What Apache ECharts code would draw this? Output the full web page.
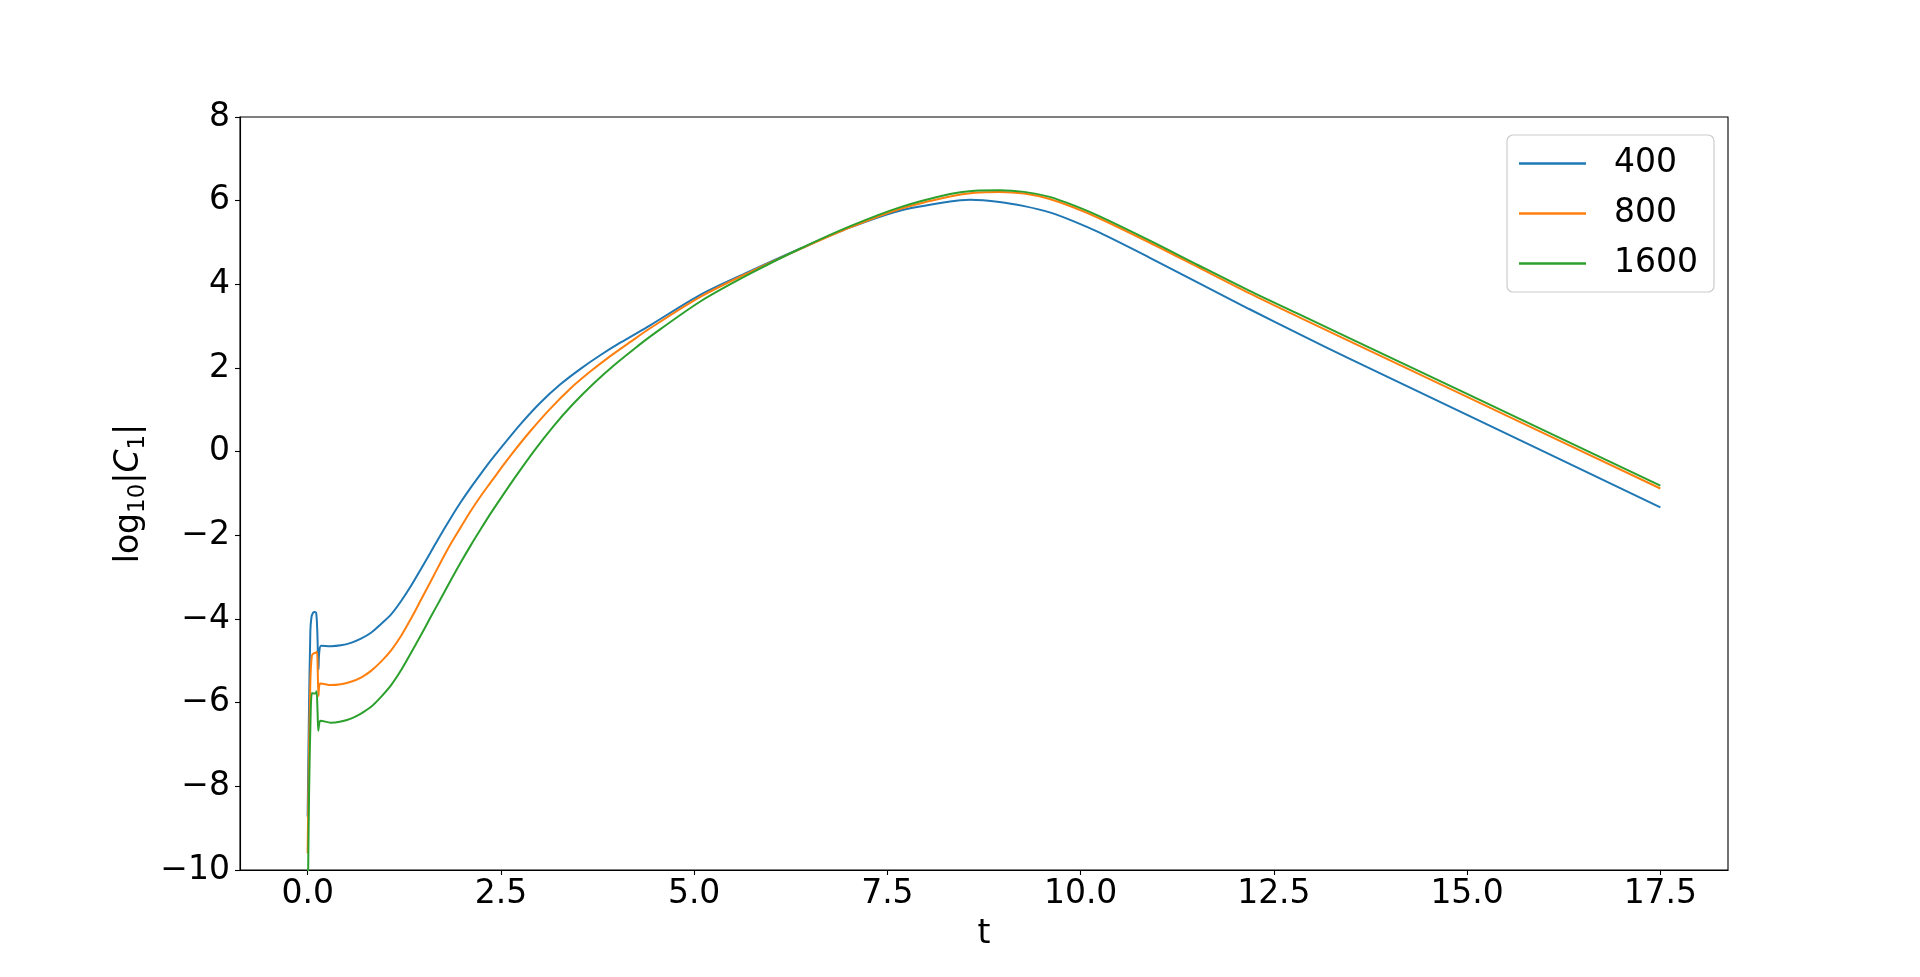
<!DOCTYPE html>
<html>
<head>
<meta charset="utf-8">
<script src="https://cdn.jsdelivr.net/npm/echarts@6/dist/echarts.min.js"></script>
<style>
html,body{margin:0;padding:0;background:#fff;}
#chart{width:1920px;height:977px;}
</style>
</head>
<body>
<div id="chart"></div>
<script>
// ---- data ----
const seriesNames = ['400', '800', '1600'];
const seriesColors = ['#1f77b4', '#ff7f0e', '#2ca02c'];

const t400 = [0, 0.015, 0.035, 0.05, 0.07, 0.088, 0.11, 0.125, 0.14, 0.15, 0.174, 0.30, 0.43, 0.56, 0.69, 0.82, 0.95, 1.08, 1.21, 1.34, 1.47, 1.59, 1.72, 1.85, 1.98, 2.11, 2.24, 2.37, 2.50, 2.76, 3.01, 3.27, 3.53, 3.79, 4.05, 4.43, 5.08, 5.73, 6.37, 7.02, 7.66, 8.31, 8.57, 8.95, 9.27, 9.60, 9.92, 10.24, 10.89, 11.53, 12.18, 12.83, 13.47, 15.0, 17.5];
const c400 = [-8.72, -6.5, -4.3, -3.95, -3.85, -3.83, -3.85, -4.3, -5.21, -4.8, -4.64, -4.65, -4.63, -4.57, -4.47, -4.33, -4.12, -3.89, -3.57, -3.20, -2.79, -2.41, -1.99, -1.59, -1.21, -0.86, -0.53, -0.21, 0.09, 0.67, 1.17, 1.61, 1.98, 2.31, 2.61, 3.02, 3.75, 4.32, 4.85, 5.36, 5.76, 5.98, 6.02, 5.97, 5.87, 5.72, 5.50, 5.24, 4.64, 4.03, 3.41, 2.81, 2.23, 0.88, -1.33];

const t800 = [0, 0.015, 0.035, 0.055, 0.08, 0.10, 0.12, 0.13, 0.14, 0.15, 0.166, 0.30, 0.43, 0.56, 0.69, 0.82, 0.95, 1.08, 1.21, 1.34, 1.47, 1.59, 1.72, 1.85, 1.98, 2.11, 2.24, 2.37, 2.50, 2.63, 2.885, 3.14, 3.40, 3.66, 3.92, 4.18, 4.43, 5.08, 5.73, 6.37, 7.02, 7.66, 8.31, 8.63, 8.95, 9.27, 9.60, 9.92, 10.24, 10.89, 11.53, 12.18, 12.83, 13.47, 15.0, 17.5];
const c800 = [-9.6, -7.5, -5.5, -4.87, -4.82, -4.81, -4.78, -5.2, -5.84, -5.6, -5.54, -5.58, -5.56, -5.50, -5.40, -5.24, -5.02, -4.75, -4.40, -3.98, -3.53, -3.11, -2.65, -2.21, -1.81, -1.42, -1.06, -0.73, -0.40, -0.08, 0.50, 1.03, 1.51, 1.92, 2.29, 2.63, 2.95, 3.70, 4.30, 4.84, 5.36, 5.80, 6.10, 6.19, 6.21, 6.17, 6.04, 5.83, 5.58, 5.00, 4.40, 3.79, 3.21, 2.65, 1.31, -0.88];

const t1600 = [0.005, 0.02, 0.04, 0.056, 0.08, 0.10, 0.115, 0.128, 0.138, 0.15, 0.166, 0.30, 0.43, 0.56, 0.69, 0.82, 0.95, 1.08, 1.21, 1.34, 1.47, 1.59, 1.72, 1.85, 1.98, 2.11, 2.24, 2.37, 2.50, 2.67, 2.93, 3.19, 3.44, 3.70, 3.96, 4.22, 4.43, 5.08, 5.73, 6.37, 7.02, 7.66, 8.31, 8.63, 8.95, 9.27, 9.60, 9.92, 10.24, 10.89, 11.53, 12.18, 12.83, 13.47, 15.0, 17.5];
const c1600 = [-10.3, -8.0, -6.2, -5.77, -5.78, -5.78, -5.73, -6.2, -6.67, -6.5, -6.43, -6.48, -6.45, -6.38, -6.26, -6.10, -5.86, -5.58, -5.22, -4.80, -4.37, -3.96, -3.52, -3.08, -2.65, -2.24, -1.85, -1.47, -1.11, -0.65, 0.02, 0.63, 1.15, 1.63, 2.06, 2.45, 2.75, 3.59, 4.26, 4.85, 5.39, 5.84, 6.16, 6.24, 6.25, 6.21, 6.09, 5.88, 5.63, 5.05, 4.45, 3.85, 3.28, 2.72, 1.38, -0.81];

const xTicks = [0, 2.5, 5, 7.5, 10, 12.5, 15, 17.5];
const yTicks = [-10, -8, -6, -4, -2, 0, 2, 4, 6, 8];

// ---- chart ----
const FONT = 'DejaVu Sans';
const tData = [t400, t800, t1600];
const cData = [c400, c800, c1600];

const chart = echarts.init(document.getElementById('chart'), null, {renderer: 'canvas'});
const minus = v => (v < 0 ? '\u2212' + String(Math.abs(v)) : String(v));

chart.setOption({
  animation: false,
  backgroundColor: '#ffffff',
  grid: {
    left: 240, right: 192, top: 117, bottom: 107,
    show: true, borderColor: '#000', borderWidth: 1.1, backgroundColor: 'transparent'
  },
  legend: {
    orient: 'vertical',
    left: 1507, top: 135,
    padding: [12, 16, 12, 12],
    itemGap: 17,
    icon: 'rect',
    itemWidth: 67, itemHeight: 2.5,
    borderColor: '#cccccc', borderWidth: 1.2, borderRadius: 6,
    backgroundColor: 'rgba(255,255,255,0.8)',
    textStyle: {fontFamily: FONT, fontSize: 33, color: '#000', lineHeight: 33, padding: [0, 0, 0, 23]},
    data: seriesNames
  },
  xAxis: {
    type: 'value',
    min: -0.875, max: 18.375,
    name: 't', nameLocation: 'middle', nameGap: 48,
    nameTextStyle: {fontFamily: FONT, fontSize: 33, color: '#000'},
    axisLine: {show: true, onZero: false, lineStyle: {color: '#000', width: 1.1}},
    axisTick: {show: true, length: 5, lineStyle: {color: '#000', width: 1.1}, customValues: xTicks},
    axisLabel: {
      fontFamily: FONT, fontSize: 33, color: '#000', margin: 8,
      customValues: xTicks,
      formatter: v => v.toFixed(1)
    },
    splitLine: {show: false}
  },
  yAxis: {
    type: 'value',
    min: -10, max: 8, interval: 2,
    name: '{a|log}{s|10}{a||}{i|C}{s|1}{a||}',
    nameLocation: 'middle', nameGap: 86, nameRotate: 90,
    nameTextStyle: {
      fontFamily: FONT, fontSize: 33, color: '#000',
      rich: {
        a: {fontFamily: FONT, fontSize: 33, color: '#000', lineHeight: 40},
        i: {fontFamily: FONT, fontSize: 33, fontStyle: 'italic', color: '#000', lineHeight: 40},
        s: {fontFamily: FONT, fontSize: 23, color: '#000', lineHeight: 40, verticalAlign: 'bottom', padding: [14, 0, 0, 0]}
      }
    },
    axisLine: {show: true, onZero: false, lineStyle: {color: '#000', width: 1.1}},
    axisTick: {show: true, length: 5, lineStyle: {color: '#000', width: 1.1}},
    axisLabel: {fontFamily: FONT, fontSize: 33, color: '#000', margin: 10, formatter: minus},
    splitLine: {show: false}
  },
  series: seriesNames.map((name, k) => ({
    name: name,
    type: 'line',
    symbol: 'none',
    showSymbol: false,
    smooth: 0.3,
    clip: true,
    color: seriesColors[k],
    lineStyle: {width: 2, color: seriesColors[k]},
    data: tData[k].map((x, i) => [x, cData[k][i]])
  }))
});
</script>
</body>
</html>
